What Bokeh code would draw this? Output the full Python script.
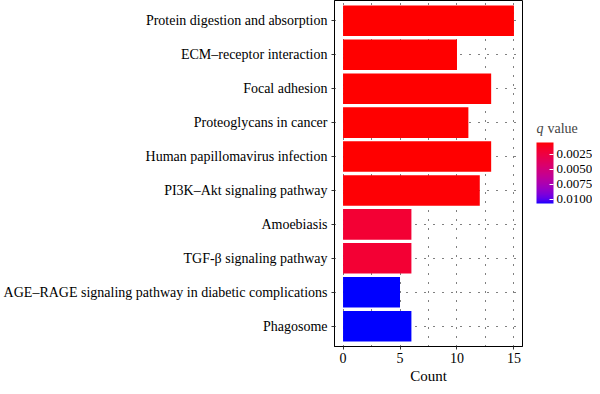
import numpy as np
from bokeh.plotting import figure
from bokeh.layouts import row
from bokeh.models import (ColumnDataSource, FactorRange, Range1d, LinearColorMapper, ColorBar,
                          FixedTicker, CustomJSTickFormatter, Label, AllLabels)
from bokeh.transform import transform
from bokeh.embed import file_html
from bokeh.resources import INLINE

# ---------------- data ----------------
terms = ["Protein digestion and absorption", "ECM\u2013receptor interaction", "Focal adhesion",
         "Proteoglycans in cancer", "Human papillomavirus infection", "PI3K\u2013Akt signaling pathway",
         "Amoebiasis", "TGF-\u03b2 signaling pathway",
         "AGE\u2013RAGE signaling pathway in diabetic complications", "Phagosome"]
counts = [15, 10, 13, 11, 13, 12, 6, 6, 5, 6]
qvalues = [0.0005, 0.0005, 0.0005, 0.0005, 0.0005, 0.0006, 0.0019, 0.0019, 0.0107, 0.0107]
q_low, q_high = 0.0005, 0.0107
cb_ticks = [0.0025, 0.0050, 0.0075, 0.0100]
x_ticks = [0, 5, 10, 15]
x_minor = [2.5, 7.5, 12.5]

# ------------- Lab gradient red -> blue (like ggplot) -------------
M = np.array([[0.4124564, 0.3575761, 0.1804375],
              [0.2126729, 0.7151522, 0.0721750],
              [0.0193339, 0.1191920, 0.9503041]])
WHITE = np.array([0.95047, 1.0, 1.08883])

def to_lab(rgb):
    c = np.array(rgb) / 255.0
    lin = np.where(c <= 0.04045, c / 12.92, ((c + 0.055) / 1.055) ** 2.4)
    xyz = M @ lin / WHITE
    d = 6 / 29
    f = np.where(xyz > d ** 3, np.cbrt(xyz), xyz / (3 * d * d) + 4 / 29)
    return np.array([116 * f[1] - 16, 500 * (f[0] - f[1]), 200 * (f[1] - f[2])])

def from_lab(lab):
    L, a, b = lab
    fy = (L + 16) / 116
    fx = fy + a / 500
    fz = fy - b / 200
    d = 6 / 29
    f = np.array([fx, fy, fz])
    xyz = np.where(f > d, f ** 3, 3 * d * d * (f - 4 / 29)) * WHITE
    lin = np.linalg.inv(M) @ xyz
    lin = np.clip(lin, 0, 1)
    c = np.where(lin <= 0.0031308, 12.92 * lin, 1.055 * lin ** (1 / 2.4) - 0.055)
    c = np.clip(np.round(c * 255), 0, 255).astype(int)
    return "#%02x%02x%02x" % tuple(c)

lab_r, lab_b = to_lab((255, 0, 0)), to_lab((0, 0, 255))
palette = [from_lab(lab_r + (lab_b - lab_r) * t) for t in np.linspace(0, 1, 256)]

mapper = LinearColorMapper(palette=palette, low=q_low, high=q_high)
# colour bar drawn with negated values so that low q sits on top
cb_mapper = LinearColorMapper(palette=palette[::-1], low=-q_high, high=-q_low)

src = ColumnDataSource(dict(term=terms, count=counts, q=qvalues))

SERIF = "Liberation Serif"
H = 386

p = figure(y_range=FactorRange(factors=terms[::-1], range_padding=0.02),
           x_range=Range1d(-0.75, 15.75),
           width=523, height=H,
           min_border_left=325, min_border_top=0, min_border_bottom=34, min_border_right=1,
           output_backend="svg", toolbar_location=None)

p.hbar(y="term", right="count", left=0, height=0.9, source=src,
       fill_color=transform("q", mapper), line_color=None)

p.outline_line_color = "black"
p.outline_line_width = 1
p.background_fill_color = "white"
p.border_fill_color = "white"

p.xaxis.ticker = FixedTicker(ticks=x_ticks, minor_ticks=x_minor)
p.xaxis.minor_tick_line_color = None
p.xaxis.axis_label = "Count"
for ax in (p.xaxis, p.yaxis):
    ax.axis_line_color = "black"
    ax.major_tick_line_color = "#333333"
    ax.major_tick_in = 0
    ax.major_tick_out = 3
    ax.major_label_text_font = SERIF
    ax.major_label_text_font_size = "14px"
    ax.major_label_text_color = "black"
    ax.axis_label_text_font = SERIF
    ax.axis_label_text_font_style = "normal"
    ax.axis_label_text_font_size = "15px"
    ax.axis_label_text_color = "black"
p.xaxis.major_label_standoff = 2
p.xaxis.axis_label_standoff = 2
p.yaxis.major_label_standoff = 4

p.xgrid.grid_line_color = "black"
p.xgrid.grid_line_dash = "1 8"
p.xgrid.grid_line_width = 1
p.xgrid.minor_grid_line_color = "black"
p.xgrid.minor_grid_line_dash = "1 8"
p.ygrid.grid_line_color = "black"
p.ygrid.grid_line_dash = "1 8"
p.ygrid.grid_line_width = 1

# ---------------- legend panel (frame is aligned with the main frame) ----------------
leg = figure(width=69, height=H, x_range=(0, 1), y_range=(0, 1),
             x_axis_location=None, y_axis_location=None,
             min_border=0, outline_line_color=None,
             output_backend="svg", toolbar_location=None)
leg.grid.visible = False
leg.background_fill_color = "white"
leg.border_fill_color = "white"

cb = ColorBar(color_mapper=cb_mapper, width=17, height=61, location=(13, 143),
              ticker=FixedTicker(ticks=[-t for t in cb_ticks]),
              formatter=CustomJSTickFormatter(code="return Math.abs(tick).toFixed(4)"),
              major_label_policy=AllLabels(),
              major_label_text_font=SERIF, major_label_text_font_size="13px",
              major_label_text_color="black",
              major_tick_line_color="white", major_tick_in=4, major_tick_out=0,
              bar_line_color=None, border_line_color=None, background_fill_color=None,
              padding=0, margin=0, label_standoff=3)
leg.add_layout(cb)

leg.add_layout(Label(x=13, y=218, x_units="screen", y_units="screen", text="q",
                     text_font=SERIF, text_font_style="italic", text_font_size="14px",
                     text_baseline="middle"))
leg.add_layout(Label(x=24, y=218, x_units="screen", y_units="screen", text="value",
                     text_font=SERIF, text_font_size="14px", text_baseline="middle"))

layout = row(p, leg, spacing=0)
open("out.html", "w").write(file_html(layout, INLINE))
